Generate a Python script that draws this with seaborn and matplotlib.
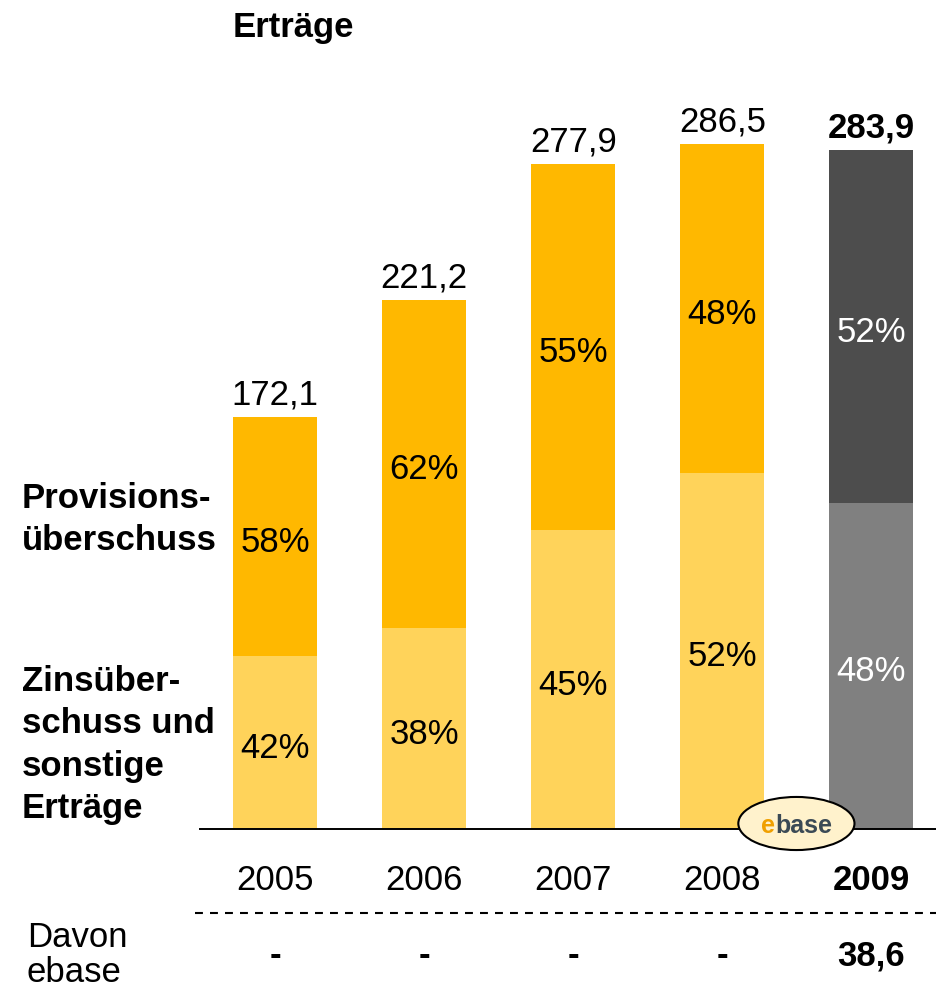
import numpy as np
import pandas as pd
import seaborn as sns
import matplotlib.pyplot as plt
from matplotlib.patches import Ellipse

years = ["2005", "2006", "2007", "2008", "2009"]
totals = [172.1, 221.2, 277.9, 286.5, 283.9]
total_labels = ["172,1", "221,2", "277,9", "286,5", "283,9"]
pct_zins = [42, 38, 45, 52, 48]
pct_prov = [58, 62, 55, 48, 52]
davon_ebase = ["-", "-", "-", "-", "38,6"]

top_colors = ["#FFB800"] * 4 + ["#4D4D4D"]
low_colors = ["#FFD35A"] * 4 + ["#808080"]
pct_colors = ["black"] * 4 + ["white"]
bold = ["normal"] * 4 + ["bold"]

df = pd.DataFrame({"year": years, "total": totals, "zins": pct_zins, "prov": pct_prov})
df["low"] = df["total"] * df["zins"] / 100

sns.set_style("white")
plt.rcParams["font.family"] = ["Liberation Sans", "DejaVu Sans"]
plt.rcParams["text.color"] = "black"
fs = 25

W, H = 937, 990
fig = plt.figure(figsize=(W / 100, H / 100), dpi=100)
ax = fig.add_axes([200 / W, 161 / H, 737 / W, 729 / H])

sns.barplot(data=df, x="year", y="total", hue="year", palette=dict(zip(years, top_colors)),
            width=0.564, dodge=False, legend=False, linewidth=0, saturation=1, ax=ax)
sns.barplot(data=df, x="year", y="low", hue="year", palette=dict(zip(years, low_colors)),
            width=0.564, dodge=False, legend=False, linewidth=0, saturation=1, ax=ax)

ax.set_xlim(-0.503, 4.44)
ax.set_ylim(0, 304.8)
ax.set_xticks([])
ax.set_yticks([])
ax.set_xlabel("")
ax.set_ylabel("")
for s in ["top", "left", "right"]:
    ax.spines[s].set_visible(False)
ax.spines["bottom"].set_color("black")
ax.spines["bottom"].set_linewidth(1.4)
ax.spines["bottom"].set_zorder(3)

for i, row in df.iterrows():
    # total on top
    ax.annotate(total_labels[i], (i, row["total"]), xytext=(0, 9), textcoords="offset points",
                ha="center", va="baseline", fontsize=fs, fontweight=bold[i], color="black")
    # segment percentages
    ax.annotate(f"{row['prov']}%", (i, (row["low"] + row["total"]) / 2), xytext=(0, -11),
                textcoords="offset points", ha="center", va="baseline", fontsize=fs, color=pct_colors[i])
    ax.annotate(f"{row['zins']}%", (i, row["low"] / 2), xytext=(0, -11),
                textcoords="offset points", ha="center", va="baseline", fontsize=fs, color=pct_colors[i])
    # year
    ax.annotate(row["year"], (i, 0), xytext=(0, -44), textcoords="offset points", color="black",
                ha="center", va="baseline", fontsize=fs, fontweight=bold[i], annotation_clip=False)
    # davon ebase row
    ax.annotate(davon_ebase[i], (i, 0), xytext=(0, -98), textcoords="offset points", color="black",
                ha="center", va="baseline", fontsize=fs, fontweight="bold", annotation_clip=False)

# dashed separator
ax.axhline(-35.1, xmin=-0.007, xmax=1, color="black", lw=1.5, ls=(0, (3.8, 3.4)), clip_on=False)

# ebase logo
ax.add_patch(Ellipse((3.497, 2.3), 0.779, 22.2, facecolor="#FFF2CC", edgecolor="black",
                     lw=1.5, clip_on=False, zorder=5))
ax.text(3.356, -1.67, "e", ha="right", va="baseline", fontsize=18, fontweight="bold",
        color="#F0A000", zorder=6, clip_on=False)
ax.text(3.356, -1.67, "base", ha="left", va="baseline", fontsize=18, fontweight="bold",
        color="#3B4A55", zorder=6, clip_on=False)


def fig_lines(x, baselines, lines, **kw):
    for b, s in zip(baselines, lines):
        fig.text(x / W, 1 - b / H, s, ha="left", va="baseline", fontsize=fs, color="black", **kw)


fig_lines(233, [37], ["Erträge"], fontweight="bold")
fig_lines(22, [508, 550], ["Provisions-", "überschuss"], fontweight="bold")
fig_lines(22, [691, 733, 776, 818], ["Zinsüber-", "schuss und", "sonstige", "Erträge"], fontweight="bold")
fig_lines(27, [947, 982], ["Davon", "ebase"])

fig.savefig("out.png", dpi=100)
